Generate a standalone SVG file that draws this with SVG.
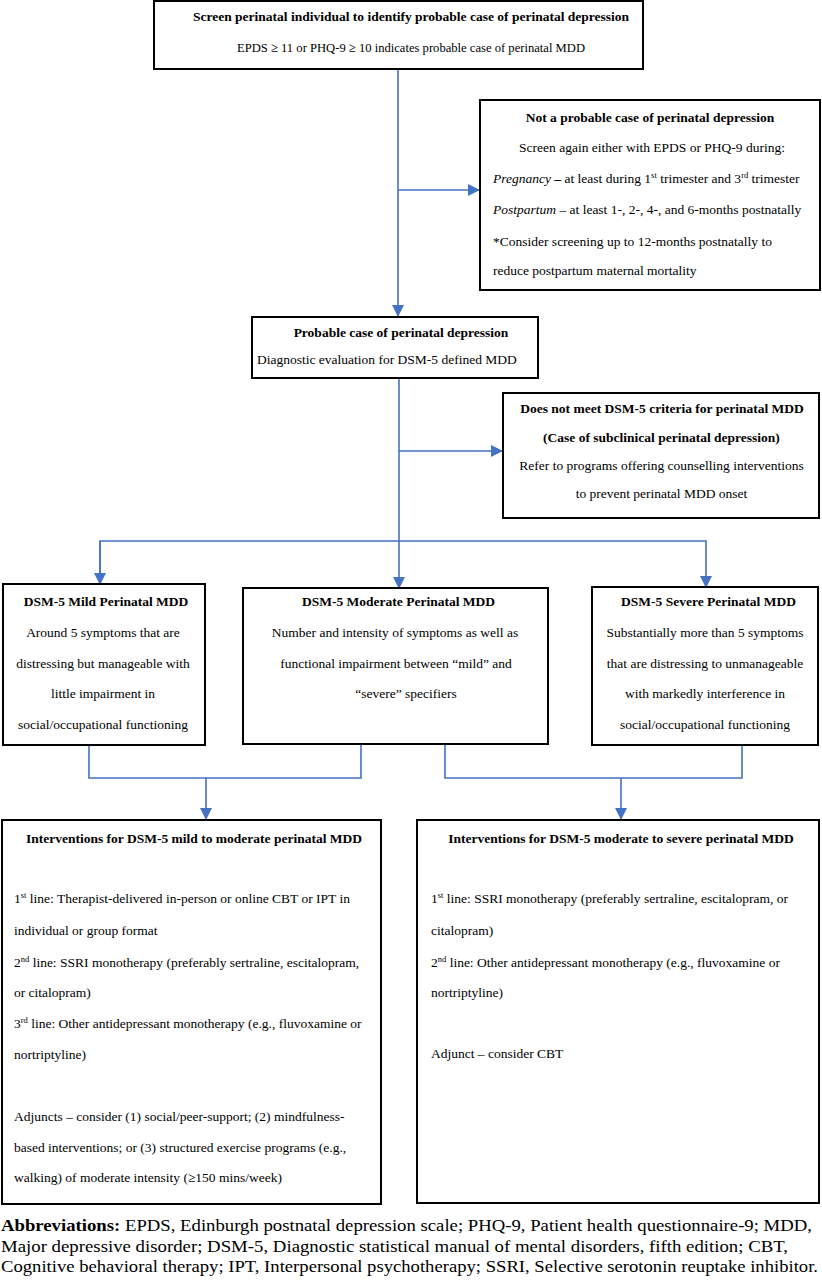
<svg xmlns="http://www.w3.org/2000/svg" width="822" height="1280" viewBox="0 0 822 1280">
<style>
text{font-family:"Liberation Serif","Times New Roman",serif;font-size:13.5px;fill:#000}
.b{font-weight:bold}
.c{text-anchor:middle}
.i{font-style:italic}
.box{fill:#fff;stroke:#000;stroke-width:2}
.ln{fill:none;stroke:#4472C4;stroke-width:1.6}
.ab{font-size:16.5px}
.sup{font-size:8.5px}
</style>
<defs>
<marker id="ah" markerUnits="userSpaceOnUse" markerWidth="12" markerHeight="12" viewBox="0 0 12 12" refX="11" refY="6" orient="auto">
<path d="M0,0 L12,6 L0,12 Z" fill="#4472C4"/>
</marker>
</defs>
<rect width="822" height="1280" fill="#fff"/>
<g id="connectors">
<line class="ln" x1="398" y1="69" x2="398" y2="316" marker-end="url(#ah)"/>
<line class="ln" x1="398" y1="190" x2="479" y2="190" marker-end="url(#ah)"/>
<line class="ln" x1="399" y1="378" x2="399" y2="588" marker-end="url(#ah)"/>
<line class="ln" x1="399" y1="451" x2="502" y2="451" marker-end="url(#ah)"/>
<polyline class="ln" points="100,584 100,541 706,541 706,587" marker-end="url(#ah)"/>
<line class="ln" x1="100" y1="541" x2="100" y2="584" marker-end="url(#ah)"/>
<polyline class="ln" points="89,745 89,778 361,778 361,744"/>
<line class="ln" x1="206" y1="778" x2="206" y2="819" marker-end="url(#ah)"/>
<polyline class="ln" points="445,744 445,778 742,778 742,745"/>
<line class="ln" x1="621" y1="778" x2="621" y2="819" marker-end="url(#ah)"/>
</g>
<g id="screen">
<rect class="box" x="154" y="1" width="489" height="68"/>
<text class="b c" x="411" y="20.5">Screen perinatal individual to identify probable case of perinatal depression</text>
<text class="c" x="411" y="51.5" textLength="348" lengthAdjust="spacingAndGlyphs">EPDS ≥ 11 or PHQ-9 ≥ 10 indicates probable case of perinatal MDD</text>
</g>
<g id="not-probable">
<rect class="box" x="480" y="100" width="340" height="190"/>
<text class="b c" x="650" y="121.5">Not a probable case of perinatal depression</text>
<text class="c" x="652" y="151.5">Screen again either with EPDS or PHQ-9 during:</text>
<text x="493" y="182.5"><tspan class="i">Pregnancy</tspan> <tspan class="b">–</tspan> at least during 1<tspan class="sup" dy="-5">st</tspan><tspan dy="5"> trimester and 3</tspan><tspan class="sup" dy="-5">rd</tspan><tspan dy="5"> trimester</tspan></text>
<text x="493" y="214"><tspan class="i">Postpartum</tspan> – at least 1-, 2-, 4-, and 6-months postnatally</text>
<text x="493" y="245.5">*Consider screening up to 12-months postnatally to</text>
<text x="493" y="274.5">reduce postpartum maternal mortality</text>
</g>
<g id="probable">
<rect class="box" x="252" y="317" width="286" height="61"/>
<text class="b c" x="401" y="336.5">Probable case of perinatal depression</text>
<text x="257" y="363.5">Diagnostic evaluation for DSM-5 defined MDD</text>
</g>
<g id="subclinical">
<rect class="box" x="503" y="393" width="316" height="125"/>
<text class="b c" x="662" y="412.5">Does not meet DSM-5 criteria for perinatal MDD</text>
<text class="b c" x="661.5" y="441.5">(Case of subclinical perinatal depression)</text>
<text class="c" x="661.5" y="469.5">Refer to programs offering counselling interventions</text>
<text class="c" x="661.5" y="497.5">to prevent perinatal MDD onset</text>
</g>
<g id="mild">
<rect class="box" x="3" y="584" width="202" height="161"/>
<text class="b c" x="106" y="605.5">DSM-5 Mild Perinatal MDD</text>
<text class="c" x="103" y="636.5">Around 5 symptoms that are</text>
<text class="c" x="103" y="667.5">distressing but manageable with</text>
<text class="c" x="103" y="697.5">little impairment in</text>
<text class="c" x="103" y="728.5">social/occupational functioning</text>
</g>
<g id="moderate">
<rect class="box" x="243" y="588" width="305" height="156"/>
<text class="b c" x="398.5" y="605.5">DSM-5 Moderate Perinatal MDD</text>
<text class="c" x="395" y="636.5">Number and intensity of symptoms as well as</text>
<text class="c" x="396" y="667.5">functional impairment between “mild” and</text>
<text class="c" x="406" y="697.5">“severe” specifiers</text>
</g>
<g id="severe">
<rect class="box" x="592" y="587" width="226" height="158"/>
<text class="b c" x="708.5" y="605.5">DSM-5 Severe Perinatal MDD</text>
<text class="c" x="705" y="636.5">Substantially more than 5 symptoms</text>
<text class="c" x="705" y="667.5">that are distressing to unmanageable</text>
<text class="c" x="705" y="697.5">with markedly interference in</text>
<text class="c" x="705" y="728.5">social/occupational functioning</text>
</g>
<g id="mild-moderate-interventions">
<rect class="box" x="2" y="820" width="379" height="384"/>
<text class="b c" x="194" y="842.5">Interventions for DSM-5 mild to moderate perinatal MDD</text>
<text x="14" y="902.5">1<tspan class="sup" dy="-5">st</tspan><tspan dy="5"> line: Therapist-delivered in-person or online CBT or IPT in</tspan></text>
<text x="14" y="934.5">individual or group format</text>
<text x="14" y="966.5">2<tspan class="sup" dy="-5">nd</tspan><tspan dy="5"> line: SSRI monotherapy (preferably sertraline, escitalopram,</tspan></text>
<text x="14" y="996.5">or citalopram)</text>
<text x="14" y="1027.5">3<tspan class="sup" dy="-5">rd</tspan><tspan dy="5"> line: Other antidepressant monotherapy (e.g., fluvoxamine or</tspan></text>
<text x="14" y="1058.5">nortriptyline)</text>
<text x="14" y="1120.5">Adjuncts – consider (1) social/peer-support; (2) mindfulness-</text>
<text x="14" y="1151.5">based interventions; or (3) structured exercise programs (e.g.,</text>
<text x="14" y="1181.5">walking) of moderate intensity (≥150 mins/week)</text>
</g>
<g id="moderate-severe-interventions">
<rect class="box" x="417" y="820" width="402" height="383"/>
<text class="b c" x="621" y="842.5">Interventions for DSM-5 moderate to severe perinatal MDD</text>
<text x="431" y="902.5">1<tspan class="sup" dy="-5">st</tspan><tspan dy="5"> line: SSRI monotherapy (preferably sertraline, escitalopram, or</tspan></text>
<text x="431" y="934.5">citalopram)</text>
<text x="431" y="966.5">2<tspan class="sup" dy="-5">nd</tspan><tspan dy="5"> line: Other antidepressant monotherapy (e.g., fluvoxamine or</tspan></text>
<text x="431" y="996.5">nortriptyline)</text>
<text x="431" y="1057.5">Adjunct – consider CBT</text>
</g>
<g id="abbreviations">
<text class="ab" x="1" y="1231" textLength="811" lengthAdjust="spacingAndGlyphs"><tspan class="b">Abbreviations:</tspan> EPDS, Edinburgh postnatal depression scale; PHQ-9, Patient health questionnaire-9; MDD,</text>
<text class="ab" x="1" y="1251.5" textLength="787" lengthAdjust="spacingAndGlyphs">Major depressive disorder; DSM-5, Diagnostic statistical manual of mental disorders, fifth edition; CBT,</text>
<text class="ab" x="1" y="1272" textLength="817" lengthAdjust="spacingAndGlyphs">Cognitive behavioral therapy; IPT, Interpersonal psychotherapy; SSRI, Selective serotonin reuptake inhibitor.</text>
</g>
</svg>
